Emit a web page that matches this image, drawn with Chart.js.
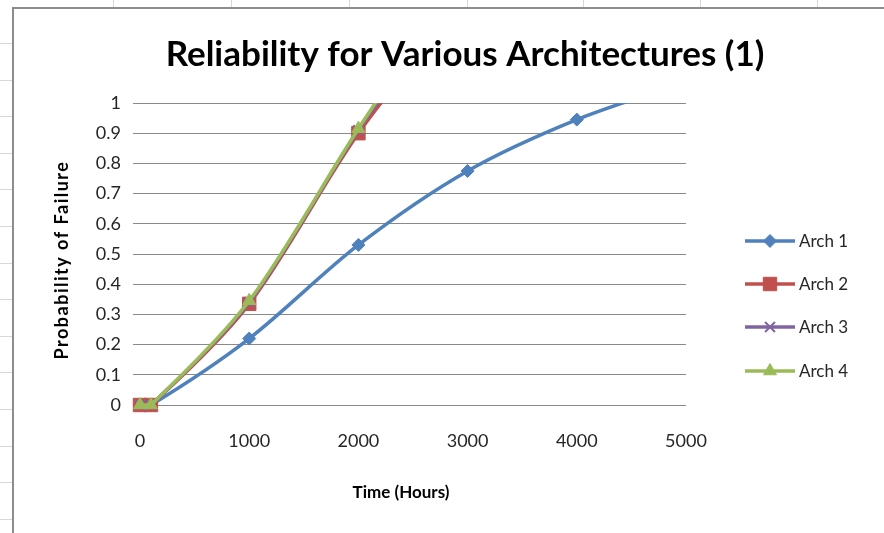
<!DOCTYPE html>
<html>
<head>
<meta charset="utf-8">
<script src="https://cdn.jsdelivr.net/npm/chart.js@4/dist/chart.umd.min.js"></script>
<style>
  html, body { margin: 0; padding: 0; background: #ffffff; }
  #wrap { width: 884px; height: 533px; position: relative; }
</style>
</head>
<body>
<div id="wrap"><canvas id="c"></canvas></div>
<script>
// Operating time (hours) at which failure probability was evaluated
const times = [0, 100, 1000, 2000, 3000, 4000, 5000];

// Probability of failure for each architecture (values above 1 run off the plot)
const arch1 = [0, 0, 0.22, 0.53, 0.775, 0.945, 1.07];
const arch2 = [0, 0, 0.335, 0.90, 1.36, null, null];
const arch3 = [0, 0, 0.34, 0.91, 1.42, null, null];
const arch4 = [0, 0, 0.345, 0.915, 1.45, null, null];

const seriesNames = ['Arch 1', 'Arch 2', 'Arch 3', 'Arch 4'];
const yTickLabels = ['0', '0.1', '0.2', '0.3', '0.4', '0.5', '0.6', '0.7', '0.8', '0.9', '1'];
const xTickLabels = ['0', '1000', '2000', '3000', '4000', '5000'];

const chartTitle = 'Reliability for Various Architectures (1)';
const yTitle = 'Probability of Failure';
const xTitle = 'Time (Hours)';

const FONT = 'Lato, "Open Sans", sans-serif';

function pairs(vals) {
  return times.map((t, i) => ({ x: t, y: vals[i] }));
}

const styles = [
  { color: '#4F81BD', point: 'rectRot', radius: 6.5 },
  { color: '#C0504D', point: 'rect', radius: 9.5 },
  { color: '#8064A2', point: 'crossRot', radius: 7 },
  { color: '#9BBB59', point: 'triangle', radius: 7.5 }
];

const datasets = [arch1, arch2, arch3, arch4].map((vals, i) => ({
  label: seriesNames[i],
  data: pairs(vals),
  borderColor: styles[i].color,
  backgroundColor: styles[i].color,
  pointBackgroundColor: styles[i].color,
  pointBorderColor: styles[i].color,
  pointStyle: styles[i].point,
  pointRadius: styles[i].radius,
  pointBorderWidth: i === 2 ? 2 : 1,
  borderWidth: 3.5,
  tension: 0.3,
  fill: false,
  order: 4 - i,
  clip: { left: 12, top: 0, right: 0, bottom: 12 }
}));

// Worksheet backdrop, chart frame, titles and legend
const frame = {
  id: 'frame',
  beforeDraw(chart) {
    const ctx = chart.ctx;
    const W = chart.width, H = chart.height;
    ctx.save();
    ctx.fillStyle = '#ffffff';
    ctx.fillRect(0, 0, W, H);
    // spreadsheet cell lines peeking out around the chart
    ctx.strokeStyle = '#d4d8de';
    ctx.lineWidth = 1;
    [113, 231, 349, 467, 583, 700, 817].forEach(x => {
      ctx.beginPath(); ctx.moveTo(x + 0.5, 0); ctx.lineTo(x + 0.5, 8); ctx.stroke();
    });
    for (let y = 43; y < H; y += 36.6) {
      const yy = Math.round(y) + 0.5;
      ctx.beginPath(); ctx.moveTo(0, yy); ctx.lineTo(12, yy); ctx.stroke();
    }
    // chart frame
    ctx.strokeStyle = '#8c8c8c';
    ctx.lineWidth = 2;
    ctx.beginPath();
    ctx.moveTo(13, H);
    ctx.lineTo(13, 8);
    ctx.lineTo(W, 8);
    ctx.stroke();
    ctx.restore();
  },
  afterDraw(chart) {
    const ctx = chart.ctx;
    ctx.save();
    ctx.fillStyle = '#000000';
    ctx.font = 'bold 35px ' + FONT;
    ctx.textAlign = 'center';
    ctx.textBaseline = 'middle';
    ctx.fillText(chartTitle, 465, 55);

    // horizontal axis title
    ctx.font = 'bold 17px ' + FONT;
    ctx.fillText(xTitle, 401, 493);

    // vertical axis title, slightly tracked out
    ctx.save();
    ctx.translate(62, 260);
    ctx.rotate(-Math.PI / 2);
    ctx.font = 'bold 18px ' + FONT;
    if ('letterSpacing' in ctx) ctx.letterSpacing = '1.5px';
    ctx.fillText(yTitle, 0, 0);
    ctx.restore();

    // legend: line sample with marker, then series name
    const rows = [241, 284, 327, 371];
    chart.data.datasets.forEach((ds, i) => {
      const y = rows[i];
      ctx.strokeStyle = ds.borderColor;
      ctx.lineWidth = 3.5;
      ctx.beginPath(); ctx.moveTo(745, y); ctx.lineTo(795, y); ctx.stroke();
      ctx.fillStyle = ds.pointBackgroundColor;
      ctx.strokeStyle = ds.pointBorderColor;
      ctx.lineWidth = ds.pointBorderWidth;
      Chart.helpers.drawPoint(ctx, {
        pointStyle: ds.pointStyle,
        radius: ds.pointRadius,
        borderWidth: ds.pointBorderWidth,
        rotation: 0
      }, 770, y);
      ctx.fillStyle = '#262626';
      ctx.font = '17px ' + FONT;
      ctx.textAlign = 'left';
      ctx.textBaseline = 'middle';
      ctx.fillText(ds.label, 799, y + 1);
    });
    ctx.restore();
  }
};

new Chart(document.getElementById('c'), {
  type: 'line',
  data: { datasets },
  plugins: [frame],
  options: {
    responsive: true,
    maintainAspectRatio: false,
    animation: false,
    devicePixelRatio: 1,
    layout: { padding: { left: 20, right: 198, top: 103, bottom: 0 } },
    plugins: {
      legend: { display: false },
      title: { display: false },
      tooltip: { enabled: false }
    },
    scales: {
      x: {
        type: 'linear',
        min: 0,
        max: 5000,
        afterFit(scale) { scale.height = 128; },
        afterBuildTicks(scale) {
          scale.ticks = xTickLabels.map(v => ({ value: Number(v) }));
        },
        ticks: {
          padding: 25,
          maxRotation: 0,
          color: '#262626',
          font: { family: FONT, size: 18 },
          callback: (v, i) => xTickLabels[i]
        },
        grid: { display: false, drawTicks: false },
        border: { display: false },
        title: { display: false }
      },
      y: {
        type: 'linear',
        min: 0,
        max: 1,
        afterFit(scale) { scale.width = 120; },
        afterBuildTicks(scale) {
          scale.ticks = yTickLabels.map(v => ({ value: Number(v) }));
        },
        ticks: {
          padding: 12,
          color: '#262626',
          font: { family: FONT, size: 18 },
          callback: (v, i) => yTickLabels[i]
        },
        grid: { color: '#8a8a8a', lineWidth: 1, tickLength: 7, drawTicks: true },
        border: { display: false },
        title: { display: false }
      }
    }
  }
});
</script>
</body>
</html>
